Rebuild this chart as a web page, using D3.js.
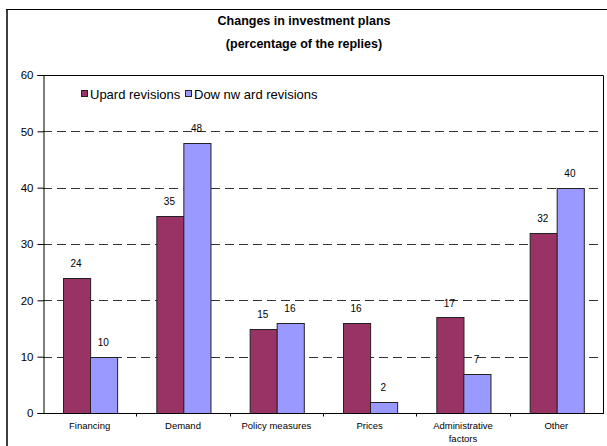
<!DOCTYPE html>
<html>
<head>
<meta charset="utf-8">
<script src="https://cdn.jsdelivr.net/npm/d3@7"></script>
<style>
  body { margin: 0; background: #fff; }
  svg { display: block; font-family: "Liberation Sans", Arial, sans-serif; }
  .grid line { stroke: #333; stroke-dasharray: 9 5; }
</style>
</head>
<body>
<svg id="svg1" width="607" height="446"></svg>
<script>
const svg1 = d3.select('#svg1');

// data
const categories = ['Financing', 'Demand', 'Policy measures', 'Prices', 'Administrative factors', 'Other'];
const seriesNames = ['Upard revisions', 'Dow nw ard revisions'];
const upward = [24, 35, 15, 16, 17, 32];
const downward = [10, 48, 16, 2, 7, 40];
const yTicks = [0, 10, 20, 30, 40, 50, 60];

const colours = ['#993366', '#9999FF'];

const margin = { left: 43, right: 4, top: 75, bottom: 33 };
const width = +svg1.attr('width');
const height = +svg1.attr('height');
const plotRight = width - margin.right;
const plotBottom = height - margin.bottom;

// outer frame
svg1.append('line').attr('x1', 7).attr('x2', 7).attr('y1', 9).attr('y2', height)
  .attr('stroke', '#404040').attr('stroke-width', 2);
svg1.append('line').attr('x1', 6).attr('x2', width).attr('y1', 9.5).attr('y2', 9.5)
  .attr('stroke', '#000').attr('stroke-width', 1);

// title
svg1.append('text').attr('x', 304).attr('y', 25).attr('text-anchor', 'middle')
  .attr('font-size', 12.5).attr('font-weight', 'bold').text('Changes in investment plans');
svg1.append('text').attr('x', 304).attr('y', 48).attr('text-anchor', 'middle')
  .attr('font-size', 12.5).attr('font-weight', 'bold').text('(percentage of the replies)');

const x0 = d3.scaleBand().domain(categories).range([margin.left, plotRight]);
const x1 = d3.scaleBand().domain(seriesNames).range([0, x0.bandwidth()])
  .paddingInner(0).paddingOuter(0.72);
const y = d3.scaleLinear().domain([0, 60]).range([plotBottom, margin.top]);

// gridlines
const grid = svg1.append('g').attr('class', 'grid');
grid.selectAll('line').data(yTicks.filter(d => d > 0 && d < 60)).enter().append('line')
  .attr('x1', margin.left).attr('x2', plotRight)
  .attr('y1', d => Math.round(y(d)) + 0.5).attr('y2', d => Math.round(y(d)) + 0.5);

// plot border (top + right)
svg1.append('path')
  .attr('d', `M${margin.left},${Math.round(y(60)) + 0.5}H${plotRight + 0.5}V${plotBottom}`)
  .attr('fill', 'none').attr('stroke', '#000');

// bars
const rows = categories.map((c, i) => ({ cat: c, vals: [upward[i], downward[i]] }));
const groups = svg1.selectAll('.grp').data(rows).enter().append('g')
  .attr('class', 'grp')
  .attr('transform', d => `translate(${x0(d.cat)},0)`);

groups.selectAll('rect').data(d => d.vals.map((v, k) => ({ key: seriesNames[k], v, k })))
  .enter().append('rect')
  .attr('x', d => Math.round(x1(d.key)) + 0.5)
  .attr('y', d => Math.round(y(d.v)) + 0.5)
  .attr('width', x1.bandwidth())
  .attr('height', d => plotBottom - Math.round(y(d.v)))
  .attr('fill', d => colours[d.k])
  .attr('stroke', '#222').attr('stroke-width', 1);

groups.selectAll('.val').data(d => d.vals.map((v, k) => ({ key: seriesNames[k], v, k })))
  .enter().append('text')
  .attr('class', 'val')
  .attr('x', d => x1(d.key) + x1.bandwidth() / 2)
  .attr('y', d => y(d.v) - 10.5)
  .attr('text-anchor', 'middle').attr('font-size', 10)
  .text(d => d.v);

// y axis
const yAxis = d3.axisLeft(y).tickValues(yTicks).tickSize(6).tickPadding(4).tickFormat(d3.format('d'));
const yAxisG = svg1.append('g').attr('transform', `translate(${margin.left + 0.5},0)`).call(yAxis);
yAxisG.selectAll('text').attr('font-size', 11.5).attr('font-family', '"Liberation Sans", Arial, sans-serif').attr('fill', '#000');
yAxisG.selectAll('line, path').attr('stroke', '#000');

// x axis
const xAxisG = svg1.append('g').attr('transform', `translate(0,${plotBottom + 0.5})`);
xAxisG.append('line').attr('x1', margin.left).attr('x2', plotRight + 1).attr('stroke', '#000');
xAxisG.selectAll('.tk').data(categories.slice(1)).enter().append('line')
  .attr('x1', d => Math.round(x0(d)) + 0.5).attr('x2', d => Math.round(x0(d)) + 0.5)
  .attr('y1', 0).attr('y2', 3).attr('stroke', '#000');

const catLabels = xAxisG.selectAll('.cl').data(categories).enter().append('text')
  .attr('x', d => x0(d) + x0.bandwidth() / 2)
  .attr('y', 15)
  .attr('text-anchor', 'middle').attr('font-size', 9.5);
catLabels.each(function(d) {
  const t = d3.select(this);
  const words = d === 'Administrative factors' ? ['Administrative', 'factors'] : [d];
  words.forEach((w, i) => t.append('tspan').attr('x', x0(d) + x0.bandwidth() / 2).attr('dy', i ? 13 : 0).text(w));
});

// legend
const legend = svg1.append('g').attr('transform', 'translate(81,95)');
const legendX = [0, 104];
seriesNames.forEach((s, i) => {
  legend.append('rect').attr('x', legendX[i] + 0.5).attr('y', -4.5).attr('width', 6).attr('height', 6)
    .attr('fill', colours[i]).attr('stroke', '#222');
  legend.append('text').attr('x', legendX[i] + 9).attr('y', 4).attr('font-size', 13).text(s);
});
</script>
</body>
</html>
